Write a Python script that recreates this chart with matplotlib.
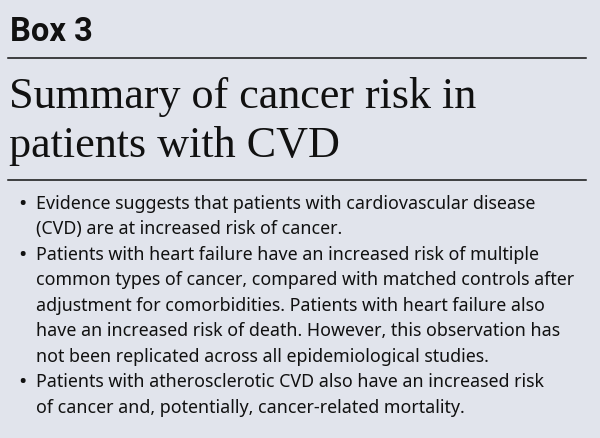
import matplotlib
matplotlib.use("Agg")
import matplotlib.pyplot as plt
from matplotlib.lines import Line2D

W, H = 600, 439

box_label = "Box 3"
title_lines = ["Summary of cancer risk in", "patients with CVD"]
bullets = [
    ["Evidence suggests that patients with cardiovascular disease",
     "(CVD) are at increased risk of cancer."],
    ["Patients with heart failure have an increased risk of multiple",
     "common types of cancer, compared with matched controls after",
     "adjustment for comorbidities. Patients with heart failure also",
     "have an increased risk of death. However, this observation has",
     "not been replicated across all epidemiological studies."],
    ["Patients with atherosclerotic CVD also have an increased risk",
     "of cancer and, potentially, cancer-related mortality."],
]

bg = "#e1e4ec"
ink = "#111111"


def fx(px):
    return px / W


def fy(py):
    return 1 - py / H


fig = plt.figure(figsize=(6, 4.39), dpi=100, facecolor=bg)

fig.text(fx(10), fy(41), box_label, fontsize=23.5, fontweight="bold",
         family="Roboto", color=ink, va="baseline")

for y in (59, 181):
    fig.add_artist(Line2D([fx(8), fx(586)], [fy(y), fy(y)],
                          color=ink, lw=1.1))

for i, line in enumerate(title_lines):
    fig.text(fx(9), fy(108 + i * 49), line, fontsize=31.8,
             family="Liberation Serif", color=ink, va="baseline")

base = 209
step = 25.5
row = 0
for item in bullets:
    fig.text(fx(18), fy(base + row * step + 1), "\u2022", fontsize=16,
             family="Noto Sans", color=ink, va="baseline")
    for line in item:
        fig.text(fx(36), fy(base + row * step), line, fontsize=12.85,
                 family="Noto Sans", color=ink, va="baseline")
        row += 1

fig.savefig("out.png", dpi=100, facecolor=bg)
